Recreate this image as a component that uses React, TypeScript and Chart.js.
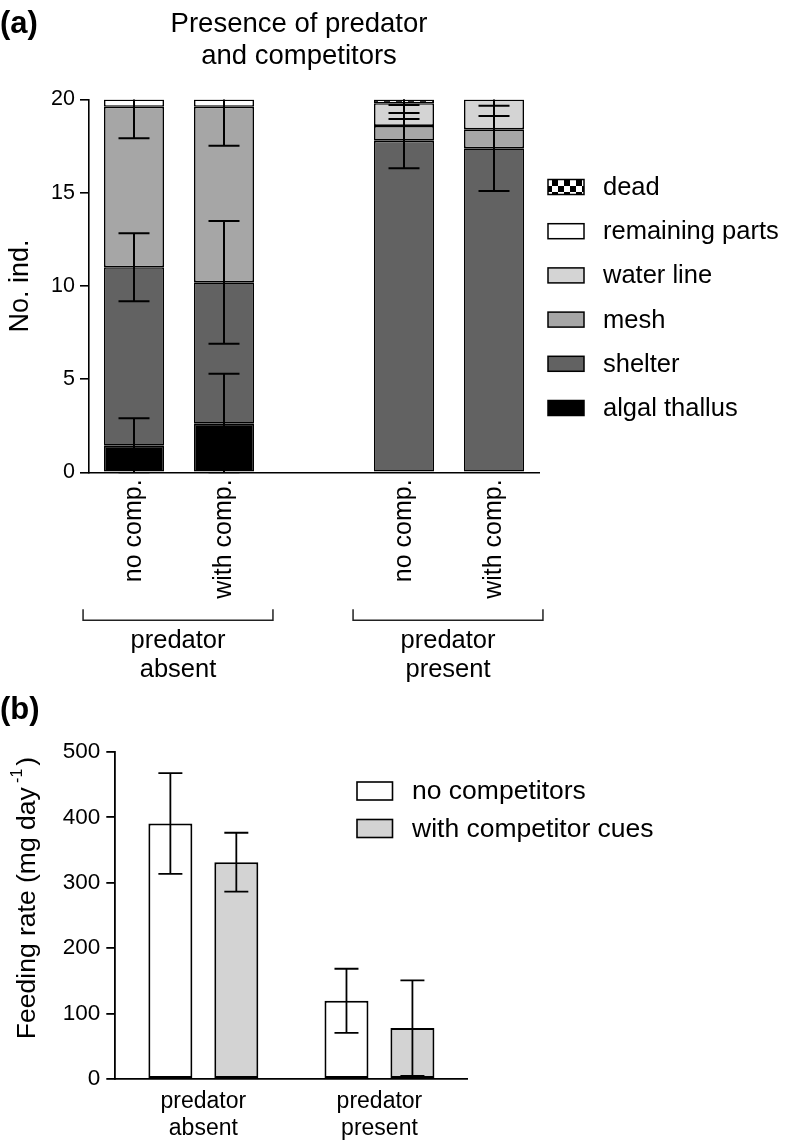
import React, { useEffect, useRef } from 'react';
import { Chart, registerables } from 'chart.js';

Chart.register(...registerables);

const FONT = '"Liberation Sans", Arial, Helvetica, sans-serif';

// ---------- Panel (a) data ----------
const treatmentLabels = ['no comp.', 'with comp.', '', 'no comp.', 'with comp.'];
const groupLabelsA = [['predator', 'absent'], ['predator', 'present']];
const groupIndexA = [[0, 1], [3, 4]];
const titleA = ['Presence of predator', 'and competitors'];
const yTitleA = 'No. ind.';

const algalThallus = [1.43, 2.61, null, null, null];
const shelter = [9.57, 7.58, null, 17.79, 17.38];
const mesh = [8.61, 9.42, null, 0.79, 1.02];
const waterLine = [null, null, null, 1.22, 1.6];
const remainingParts = [0.39, 0.39, null, null, null];
const dead = [null, null, null, 0.2, null];

const algalThallusErr = [1.47, 2.68, null, null, null];
const shelterErr = [1.83, 3.29, null, 1.48, 2.29];
const meshErr = [1.69, 2.09, null, null, null];
const waterLineErr = [null, null, null, 0.85, 0.89];
const remainingPartsErr = [null, null, null, null, null];
const deadErr = [null, null, null, 0.29, null];

// ---------- Panel (b) data ----------
const predatorLabels = [['predator', 'absent'], ['predator', 'present']];
const noCompetitors = [390.6, 119.6];
const withCompetitorCues = [331.5, 77.9];
const noCompetitorsErr = [77, 49];
const withCompetitorCuesErr = [45, 73];
const yTitleB = 'Feeding rate (mg day';

function makeChecker(): CanvasPattern | string {
  const c = document.createElement('canvas');
  c.width = 12;
  c.height = 12;
  const g = c.getContext('2d');
  if (!g) return '#000';
  g.fillStyle = '#fff';
  g.fillRect(0, 0, 12, 12);
  g.fillStyle = '#000';
  g.fillRect(0, 0, 6, 6);
  g.fillRect(6, 6, 6, 6);
  return g.createPattern(c, 'repeat') || '#000';
}

function text(ctx: CanvasRenderingContext2D, s: string, x: number, y: number, font: string, align: CanvasTextAlign = 'center') {
  ctx.save();
  ctx.font = font;
  ctx.textAlign = align;
  ctx.textBaseline = 'middle';
  ctx.fillStyle = '#000';
  ctx.fillText(s, x, y);
  ctx.restore();
}

const errorBarPlugin = {
  id: 'errorBars',
  afterDatasetsDraw(chart: any, _args: any, opts: any) {
    const { ctx, chartArea } = chart;
    const yScale = chart.scales.y;
    ctx.save();
    ctx.beginPath();
    ctx.rect(chartArea.left, chartArea.top, chartArea.right - chartArea.left, chartArea.bottom - chartArea.top + 1);
    ctx.clip();
    ctx.strokeStyle = '#000';
    ctx.lineWidth = opts.lineWidth || 2;
    chart.data.datasets.forEach((ds: any, di: number) => {
      const errs = ds.errors;
      if (!errs) return;
      const meta = chart.getDatasetMeta(di);
      meta.data.forEach((el: any, i: number) => {
        const e = errs[i];
        if (e == null || ds.data[i] == null) return;
        const v = yScale.getValueForPixel(el.y);
        const yTop = yScale.getPixelForValue(v + e);
        const yBot = yScale.getPixelForValue(v - e);
        const x = el.x;
        const hw = (opts.capWidth || 30) / 2;
        ctx.beginPath();
        ctx.moveTo(x, yTop);
        ctx.lineTo(x, yBot);
        ctx.moveTo(x - hw, yTop);
        ctx.lineTo(x + hw, yTop);
        ctx.moveTo(x - hw, yBot);
        ctx.lineTo(x + hw, yBot);
        ctx.stroke();
      });
    });
    ctx.restore();
  },
};

const decorA = {
  id: 'decorA',
  afterDraw(chart: any) {
    const { ctx, chartArea } = chart;
    const xs = chart.scales.x;
    text(ctx, '(a)', 0, 24, `bold 31px ${FONT}`, 'left');
    text(ctx, titleA[0], 299, 24, `27.5px ${FONT}`);
    text(ctx, titleA[1], 299, 56, `27.5px ${FONT}`);
    // y title
    ctx.save();
    ctx.translate(21, (chartArea.top + chartArea.bottom) / 2);
    ctx.rotate(-Math.PI / 2);
    text(ctx, yTitleA, 0, 0, `27px ${FONT}`);
    ctx.restore();
    // legend
    const ds = chart.data.datasets.slice().reverse();
    ds.forEach((d: any, i: number) => {
      const cy = 187 + i * 44.2;
      ctx.save();
      ctx.fillStyle = d.backgroundColor;
      ctx.fillRect(548, cy - 7.5, 36, 15);
      ctx.strokeStyle = '#000';
      ctx.lineWidth = 1.5;
      ctx.strokeRect(548, cy - 7.5, 36, 15);
      ctx.restore();
      text(ctx, d.label, 603, cy + 1, `25.5px ${FONT}`, 'left');
    });
    // group brackets
    const catW = xs.getPixelForValue(1) - xs.getPixelForValue(0);
    groupIndexA.forEach((g, gi) => {
      const l = xs.getPixelForValue(g[0]) - 0.566 * catW;
      const r = xs.getPixelForValue(g[1]) + 0.544 * catW;
      const by = chartArea.bottom + 148;
      ctx.save();
      ctx.strokeStyle = '#222';
      ctx.lineWidth = 1.5;
      ctx.beginPath();
      ctx.moveTo(l, by - 11);
      ctx.lineTo(l, by);
      ctx.lineTo(r, by);
      ctx.lineTo(r, by - 11);
      ctx.stroke();
      ctx.restore();
      const cx = (l + r) / 2;
      text(ctx, groupLabelsA[gi][0], cx, by + 21, `25.5px ${FONT}`);
      text(ctx, groupLabelsA[gi][1], cx, by + 50, `25.5px ${FONT}`);
    });
  },
};

const decorB = {
  id: 'decorB',
  afterDraw(chart: any) {
    const { ctx, chartArea } = chart;
    const xs = chart.scales.x;
    text(ctx, '(b)', 0, 20, `bold 31px ${FONT}`, 'left');
    // y title with superscript
    ctx.save();
    ctx.translate(28, 208);
    ctx.rotate(-Math.PI / 2);
    ctx.fillStyle = '#000';
    ctx.textBaseline = 'middle';
    const mainFont = `26.5px ${FONT}`;
    const supFont = `16px ${FONT}`;
    ctx.font = mainFont;
    const w1 = ctx.measureText(yTitleB + ' ').width;
    const w3 = ctx.measureText(')').width;
    ctx.font = supFont;
    const w2 = ctx.measureText('-1').width;
    const x0 = -(w1 + w2 + w3) / 2;
    ctx.textAlign = 'left';
    ctx.font = mainFont;
    ctx.fillText(yTitleB + ' ', x0, 0);
    ctx.font = supFont;
    ctx.fillText('-1', x0 + w1 - 3, -10);
    ctx.font = mainFont;
    ctx.fillText(')', x0 + w1 + w2, 0);
    ctx.restore();
    // x labels
    predatorLabels.forEach((lab, i) => {
      const cx = xs.getPixelForValue(i);
      text(ctx, lab[0], cx, chartArea.bottom + 23, `23px ${FONT}`);
      text(ctx, lab[1], cx, chartArea.bottom + 50, `23px ${FONT}`);
    });
    // legend
    chart.data.datasets.forEach((d: any, i: number) => {
      const cy = 101 + i * 37.5;
      ctx.save();
      ctx.fillStyle = d.backgroundColor;
      ctx.fillRect(357, cy - 9, 35.5, 18);
      ctx.strokeStyle = '#000';
      ctx.lineWidth = 1.6;
      ctx.strokeRect(357, cy - 9, 35.5, 18);
      ctx.restore();
      text(ctx, d.label, 412, cy + 1, `26.5px ${FONT}`, 'left');
    });
  },
};

export default function App() {
  const refA = useRef<HTMLCanvasElement>(null);
  const refB = useRef<HTMLCanvasElement>(null);

  useEffect(() => {
    Chart.defaults.font.family = FONT;
    Chart.defaults.color = '#000';
    const checker = makeChecker();
    const barStyle = { borderColor: '#000', borderWidth: 1.6, borderSkipped: false as const };

    const chartA = new Chart(refA.current as HTMLCanvasElement, {
      type: 'bar',
      data: {
        labels: treatmentLabels,
        datasets: [
          { label: 'algal thallus', data: algalThallus, errors: algalThallusErr, backgroundColor: '#000000', ...barStyle },
          { label: 'shelter', data: shelter, errors: shelterErr, backgroundColor: '#626262', ...barStyle },
          { label: 'mesh', data: mesh, errors: meshErr, backgroundColor: '#a6a6a6', ...barStyle },
          { label: 'water line', data: waterLine, errors: waterLineErr, backgroundColor: '#d4d4d4', ...barStyle },
          { label: 'remaining parts', data: remainingParts, errors: remainingPartsErr, backgroundColor: '#ffffff', ...barStyle },
          { label: 'dead', data: dead, errors: deadErr, backgroundColor: checker, ...barStyle },
        ] as any,
      },
      options: {
        animation: false,
        responsive: false,
        devicePixelRatio: 1,
        layout: { padding: { left: 0, right: 786 - 539, top: 99.5, bottom: 0 } },
        plugins: {
          legend: { display: false },
          tooltip: { enabled: false },
          errorBars: { capWidth: 31, lineWidth: 2 },
        } as any,
        datasets: { bar: { barPercentage: 0.667, categoryPercentage: 1 } },
        scales: {
          x: {
            stacked: true,
            grid: { display: false, drawTicks: false },
            border: { display: true, color: '#000', width: 1.6 },
            ticks: { font: { size: 25 }, color: '#000', minRotation: 90, maxRotation: 90, autoSkip: false, padding: 7 },
            afterFit: (s: any) => { s.height = 690 - 472.3; },
          },
          y: {
            stacked: true,
            min: 0,
            max: 20,
            ticks: { stepSize: 5, font: { size: 21.5 }, color: '#000', padding: 5 },
            grid: { display: true, drawOnChartArea: false, drawTicks: true, tickLength: 9, color: '#000', lineWidth: 1.6 },
            border: { display: true, color: '#000', width: 1.6 },
            afterFit: (s: any) => { s.width = 89; },
          },
        },
      },
      plugins: [errorBarPlugin, decorA],
    });

    const chartB = new Chart(refB.current as HTMLCanvasElement, {
      type: 'bar',
      data: {
        labels: predatorLabels.map((l) => l.join(' ')),
        datasets: [
          { label: 'no competitors', data: noCompetitors, errors: noCompetitorsErr, backgroundColor: '#ffffff', borderColor: '#000', borderWidth: 2, borderSkipped: false },
          { label: 'with competitor cues', data: withCompetitorCues, errors: withCompetitorCuesErr, backgroundColor: '#d3d3d3', borderColor: '#000', borderWidth: 2, borderSkipped: false },
        ] as any,
      },
      options: {
        animation: false,
        responsive: false,
        devicePixelRatio: 1,
        layout: { padding: { left: 0, right: 786 - 467.5, top: 62, bottom: 0 } },
        plugins: {
          legend: { display: false },
          tooltip: { enabled: false },
          errorBars: { capWidth: 24, lineWidth: 1.8 },
        } as any,
        datasets: { bar: { barPercentage: 0.667, categoryPercentage: 0.749 } },
        scales: {
          x: {
            grid: { display: false, drawTicks: false },
            border: { display: true, color: '#000', width: 1.8 },
            ticks: { display: false },
            afterFit: (s: any) => { s.height = 453 - 389; },
          },
          y: {
            min: 0,
            max: 500,
            ticks: { stepSize: 100, font: { size: 22.5 }, color: '#000', padding: 6 },
            grid: { display: true, drawOnChartArea: false, drawTicks: true, tickLength: 9, color: '#000', lineWidth: 1.8 },
            border: { display: true, color: '#000', width: 1.8 },
            afterFit: (s: any) => { s.width = 115.3; },
          },
        },
      },
      plugins: [errorBarPlugin, decorB],
    });

    return () => {
      chartA.destroy();
      chartB.destroy();
    };
  }, []);

  return (
    <div style={{ position: 'absolute', left: 0, top: 0, width: 786, height: 1143, background: '#fff' }}>
      <canvas ref={refA} width={786} height={690} style={{ position: 'absolute', left: 0, top: 0, width: 786, height: 690 }} />
      <canvas ref={refB} width={786} height={453} style={{ position: 'absolute', left: 0, top: 690, width: 786, height: 453 }} />
    </div>
  );
}
